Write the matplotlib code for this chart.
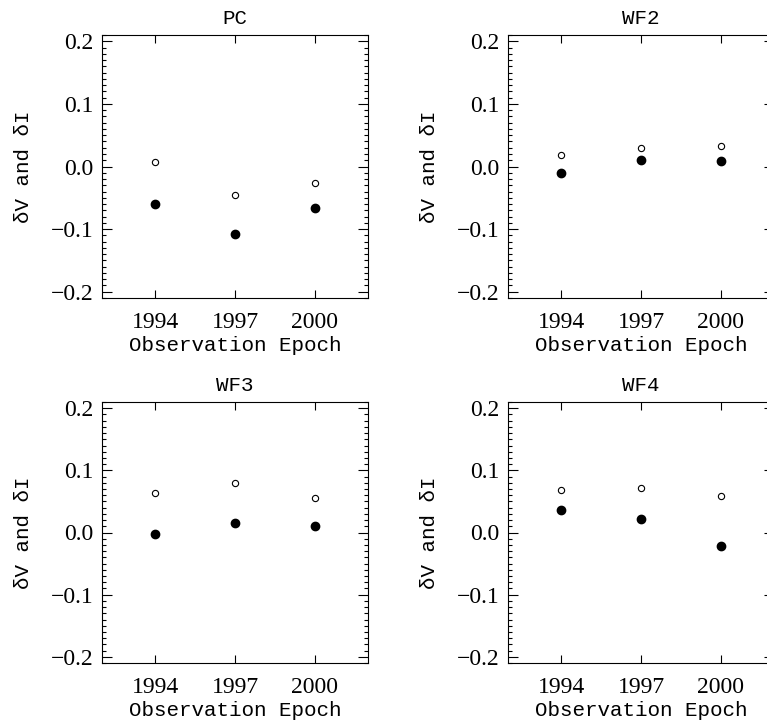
import matplotlib
matplotlib.use("Agg")
import matplotlib.pyplot as plt
from matplotlib.ticker import MultipleLocator
import numpy as np

plt.rcParams['font.family'] = ['Liberation Mono', 'DejaVu Sans Mono']

# data
epochs = [1994, 1997, 2000]
panels = ['PC', 'WF2', 'WF3', 'WF4']
dI = {  # filled dots
    'PC':  [-0.060, -0.107, -0.067],
    'WF2': [-0.010, 0.011, 0.008],
    'WF3': [-0.002, 0.015, 0.011],
    'WF4': [0.036, 0.021, -0.022],
}
dV = {  # open circles
    'PC':  [0.007, -0.045, -0.027],
    'WF2': [0.018, 0.029, 0.032],
    'WF3': [0.063, 0.079, 0.055],
    'WF4': [0.068, 0.072, 0.058],
}
yticks = [-0.2, -0.1, 0.0, 0.1, 0.2]
ytick_labels = ['\u22120.2', '\u22120.1', '0.0', '0.1', '0.2']

fig = plt.figure(figsize=(7.67, 7.25), dpi=100)
W, H = 767.0, 725.0
# axes boxes in pixels: left, top, right, bottom
boxes = [(102, 35, 368, 298), (508, 35, 774, 298),
         (102, 402, 368, 663), (508, 402, 774, 663)]

for name, (l, t, r, b) in zip(panels, boxes):
    ax = fig.add_axes([l / W, 1 - b / H, (r - l) / W, (b - t) / H])
    ax.plot(epochs, dI[name], 'o', color='black', ms=6, ls='none', clip_on=False)
    ax.plot(epochs, dV[name], 'o', mfc='none', mec='black', mew=0.8, ms=4.5,
            ls='none', clip_on=False)
    ax.set_xlim(1992, 2002)
    ax.set_ylim(-0.21, 0.21)
    ax.set_xticks(epochs)
    ax.set_yticks(yticks)
    ax.set_yticklabels(ytick_labels)
    ax.yaxis.set_minor_locator(MultipleLocator(0.01))
    ax.tick_params(which='both', direction='in', top=True, right=True,
                   width=0.8)
    ax.tick_params(axis='x', which='major', length=6, pad=10)
    ax.tick_params(axis='y', which='major', length=7, pad=6)
    ax.tick_params(axis='y', which='minor', length=3)
    for lab in ax.get_xticklabels() + ax.get_yticklabels():
        lab.set_family(['Liberation Serif', 'DejaVu Serif'])
        lab.set_fontsize(17)
    for s in ax.spines.values():
        s.set_linewidth(0.8)
    ax.set_title(name, fontsize=15, pad=8)
    ax.set_xlabel('Observation Epoch', fontsize=15, labelpad=2)
    ax.set_ylabel('\u03b4V and \u03b4I', fontsize=15, labelpad=13)

fig.savefig('out.png', dpi=100)
